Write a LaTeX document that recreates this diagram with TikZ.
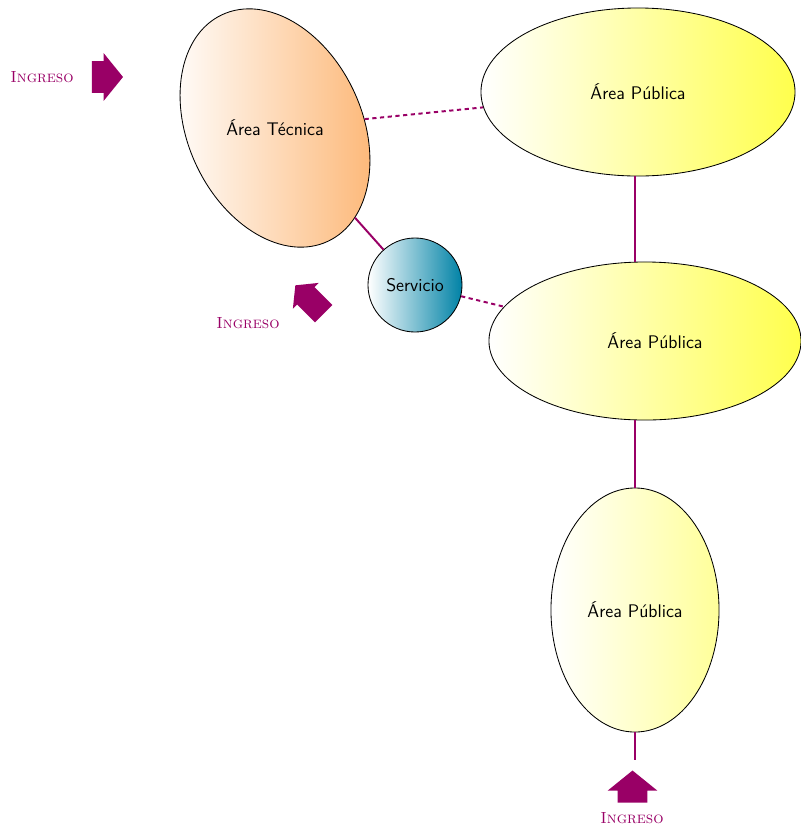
\documentclass[tikz,border=0pt]{standalone}
\usepackage{tikz}
\usetikzlibrary{shapes.geometric,shapes.arrows}
\usepackage{xcolor}
\definecolor{ingcolor}{rgb}{0.60, 0.0, 0.40}
\definecolor{tecorange}{rgb}{0.99, 0.71, 0.45}
\definecolor{pubyellow}{rgb}{1.0, 1.0, 0.30}
\definecolor{publight}{rgb}{1.0, 1.0, 0.60}
\definecolor{servteal}{rgb}{0.0, 0.51, 0.65}

\begin{document}
\begin{tikzpicture}[x=0.025cm, y=-0.025cm]

		\tikzset{area/.style = {shape=ellipse, draw, line width=0.6pt, inner sep=0pt,
			font=\sffamily\fontsize{13}{15}\selectfont}}
		\tikzset{link/.style = {draw=ingcolor, line width=1.4pt}}
		\tikzset{dlink/.style = {link, dash pattern=on 3pt off 2.5pt}}
		\tikzset{ingarrow/.style = {single arrow, draw=none, fill=ingcolor, inner sep=0pt,
			single arrow tip angle=102, minimum height=0.78cm, minimum width=1.18cm,
			single arrow head extend=0.2cm}}
		\tikzset{inglabel/.style = {text=ingcolor, font=\rmfamily\scshape\fontsize{11.5}{13}\selectfont}}
		\useasboundingbox (0,0) rectangle (801,831);
		% vertices
		\node[area, rotate=25, minimum width=4.35cm, minimum height=6.25cm,
			left color=white, right color=tecorange] (tec) at (275,128) {\rotatebox{-25}{\'Area T\'ecnica}};
		\node[area, minimum width=7.85cm, minimum height=4.2cm,
			left color=white, right color=pubyellow] (pub1) at (638,92) {\'Area P\'ublica};
		\node[area, minimum width=7.8cm, minimum height=3.95cm,
			left color=white, right color=pubyellow] (pub2) at (645,341) {\hspace{0.5cm}\'Area P\'ublica};
		\node[area, minimum width=4.2cm, minimum height=6.1cm,
			left color=white, right color=publight] (pub3) at (635,610) {\'Area P\'ublica};
		\node[area, shape=circle, minimum size=2.35cm,
			left color=white, right color=servteal] (serv) at (415,285) {Servicio};
		% entrances
		\node[ingarrow] (arr1) at (101,77) {\rule{0pt}{0.775cm}};
		\node[ingarrow, rotate=135, minimum height=1.0cm, minimum width=0.9cm,
			single arrow head extend=0.15cm] (arr2) at (313,303) {\rule{0pt}{0.6cm}};
		\node[ingarrow, rotate=90, minimum height=0.8cm, minimum width=1.22cm,
			single arrow head extend=0.25cm] (arr3) at (632.5,792.5) {\rule{0pt}{0.725cm}};
		\node[inglabel] (ing1) at (42,77) {Ingreso};
		\node[inglabel] (ing2) at (248,323) {Ingreso};
		\node[inglabel] (ing3) at (632,818) {Ingreso};
		\coordinate (end3) at (635,760);

		%edges
		\draw[dlink] (tec) -- (pub1);
		\draw[link] (tec) -- (serv);
		\draw[dlink] (serv) -- (pub2);
		\draw[link] (pub1.south -| pub3) -- (pub2.north -| pub3);
		\draw[link] (pub2.south -| pub3) -- (pub3.north);
		\draw[link] (pub3.south) -- (end3);

\end{tikzpicture}
\end{document}
